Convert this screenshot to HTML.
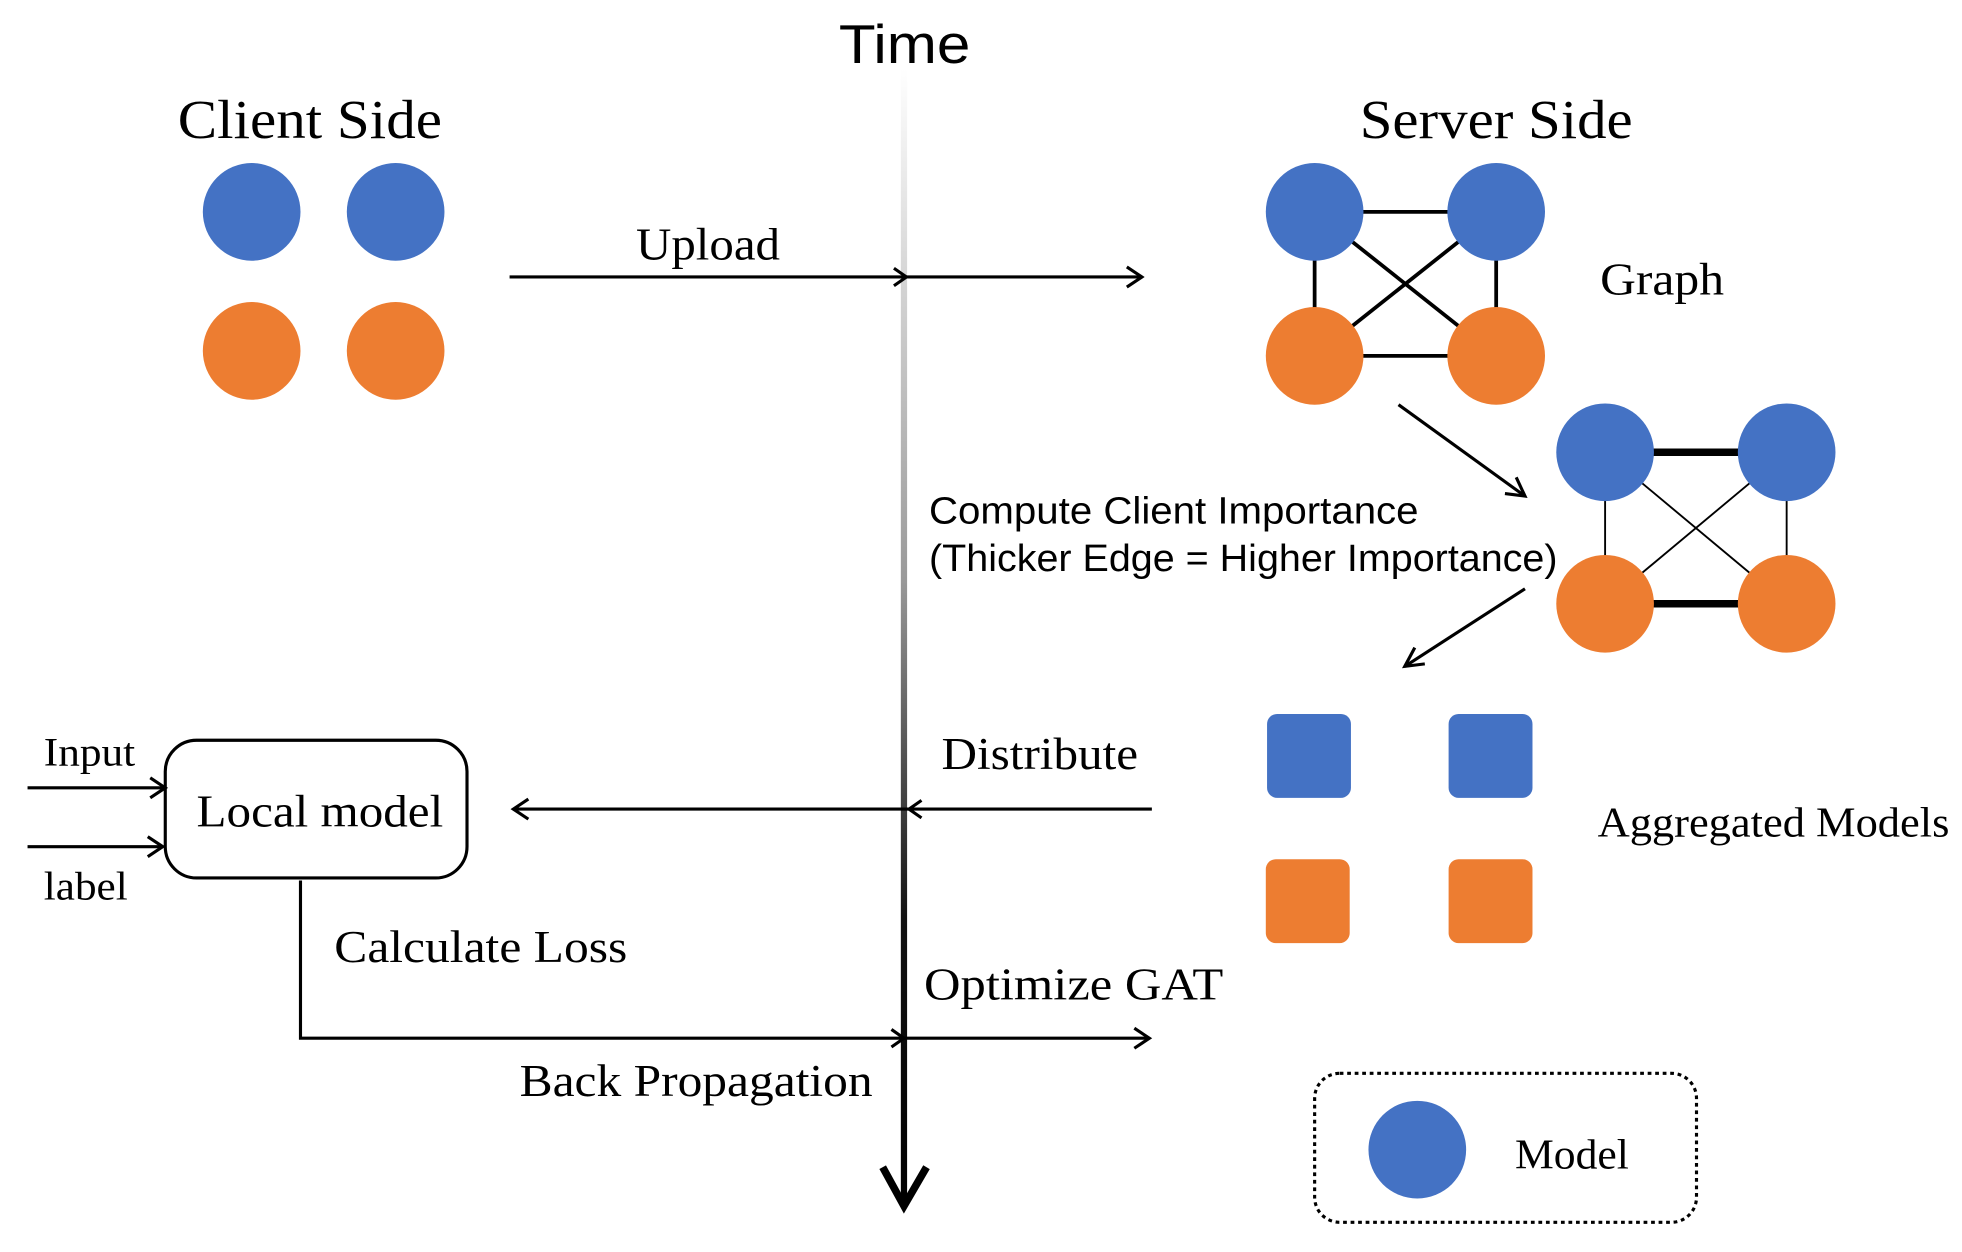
<!DOCTYPE html>
<html><head><style>html,body{margin:0;padding:0;background:#fff;}svg{display:block;}</style></head>
<body>
<svg width="1962" height="1252" viewBox="0 0 1560 995" xmlns="http://www.w3.org/2000/svg">
<defs>
<linearGradient id="tg" x1="0" y1="0" x2="0" y2="1">
<stop offset="0" stop-color="#fff"/><stop offset="0.45" stop-color="#999"/><stop offset="0.75" stop-color="#111"/><stop offset="1" stop-color="#000"/>
</linearGradient>
</defs>
<g transform="scale(0.9955)">
<g font-family="Liberation Serif, serif" fill="#000">
<text x="670" y="50" font-family="Liberation Sans, sans-serif" font-size="44" textLength="105" lengthAdjust="spacingAndGlyphs">Time</text>
<text x="142" y="110" font-size="44" textLength="211" lengthAdjust="spacingAndGlyphs">Client Side</text>
<text x="1086" y="110" font-size="44" textLength="218" lengthAdjust="spacingAndGlyphs">Server Side</text>
<text x="508" y="207" font-size="36" textLength="115" lengthAdjust="spacingAndGlyphs">Upload</text>
<text x="1278" y="235" font-size="36" textLength="99" lengthAdjust="spacingAndGlyphs">Graph</text>
<text x="742" y="418" font-family="Liberation Sans, sans-serif" font-size="30" textLength="391" lengthAdjust="spacingAndGlyphs">Compute Client Importance</text>
<text x="742" y="456" font-family="Liberation Sans, sans-serif" font-size="30" textLength="502" lengthAdjust="spacingAndGlyphs">(Thicker Edge = Higher Importance)</text>
<text x="752" y="614" font-size="36" textLength="157" lengthAdjust="spacingAndGlyphs">Distribute</text>
<text x="1276" y="668" font-size="34" textLength="281" lengthAdjust="spacingAndGlyphs">Aggregated Models</text>
<text x="157" y="660" font-size="36" textLength="197" lengthAdjust="spacingAndGlyphs">Local model</text>
<text x="35" y="611" font-size="32" textLength="73" lengthAdjust="spacingAndGlyphs">Input</text>
<text x="35" y="718" font-size="32" textLength="67" lengthAdjust="spacingAndGlyphs">label</text>
<text x="267" y="768" font-size="36" textLength="234" lengthAdjust="spacingAndGlyphs">Calculate Loss</text>
<text x="738" y="798" font-size="36" textLength="239" lengthAdjust="spacingAndGlyphs">Optimize GAT</text>
<text x="415" y="875" font-size="36" textLength="282" lengthAdjust="spacingAndGlyphs">Back Propagation</text>
<text x="1210" y="933" font-size="34" textLength="91" lengthAdjust="spacingAndGlyphs">Model</text>
</g>
<rect x="719.5" y="55" width="5" height="905" fill="url(#tg)"/>
<polyline points="705,932 722,963 740,932" fill="none" stroke="#000" stroke-width="6"/>
<g stroke="#000" stroke-width="2.5" fill="none">
<line x1="407" y1="221" x2="912" y2="221"/>
<polyline points="900,213 912,221 900,229"/>
<polyline points="714,214 724,221 714,228"/>
<line x1="920" y1="646" x2="410" y2="646"/>
<polyline points="422,638 410,646 422,654"/>
<polyline points="736,639 726,646 736,653"/>
<polyline points="240,703 240,829 918,829"/>
<polyline points="906,821 918,829 906,837"/>
<polyline points="712,822 722,829 712,836"/>
<line x1="22" y1="629" x2="132" y2="629"/>
<polyline points="120,621 132,629 120,637"/>
<line x1="22" y1="676" x2="130" y2="676"/>
<polyline points="118,668 130,676 118,684"/>
<line x1="1117" y1="323" x2="1218" y2="396"/>
<polyline points="1202,394 1218,396 1211,381"/>
<line x1="1218" y1="470" x2="1122" y2="532"/>
<polyline points="1130,517 1122,532 1138,530"/>
<rect x="132" y="591" width="241" height="110" rx="25"/>
<rect x="1050" y="857" width="305" height="119" rx="20" stroke-dasharray="3,3"/>
</g>
<g stroke="#000" stroke-width="3">
<line x1="1050" y1="169" x2="1195" y2="169"/><line x1="1050" y1="284" x2="1195" y2="284"/>
<line x1="1050" y1="169" x2="1050" y2="284"/><line x1="1195" y1="169" x2="1195" y2="284"/>
<line x1="1050" y1="169" x2="1195" y2="284"/><line x1="1195" y1="169" x2="1050" y2="284"/>
</g>
<g stroke="#000" stroke-width="1.5">
<line x1="1282" y1="361" x2="1282" y2="482"/><line x1="1427" y1="361" x2="1427" y2="482"/>
<line x1="1282" y1="361" x2="1427" y2="482"/><line x1="1427" y1="361" x2="1282" y2="482"/>
</g>
<g stroke="#000" stroke-width="6">
<line x1="1282" y1="361" x2="1427" y2="361"/><line x1="1282" y1="482" x2="1427" y2="482"/>
</g>
<g fill="#4472C4">
<circle cx="201" cy="169" r="39"/><circle cx="316" cy="169" r="39"/>
<circle cx="1050" cy="169" r="39"/><circle cx="1195" cy="169" r="39"/>
<circle cx="1282" cy="361" r="39"/><circle cx="1427" cy="361" r="39"/>
<circle cx="1132" cy="918" r="39"/>
<rect x="1012" y="570" width="67" height="67" rx="8"/><rect x="1157" y="570" width="67" height="67" rx="8"/>
</g>
<g fill="#ED7D31">
<circle cx="201" cy="280" r="39"/><circle cx="316" cy="280" r="39"/>
<circle cx="1050" cy="284" r="39"/><circle cx="1195" cy="284" r="39"/>
<circle cx="1282" cy="482" r="39"/><circle cx="1427" cy="482" r="39"/>
<rect x="1011" y="686" width="67" height="67" rx="8"/><rect x="1157" y="686" width="67" height="67" rx="8"/>
</g>
</g>
</svg>
</body></html>
